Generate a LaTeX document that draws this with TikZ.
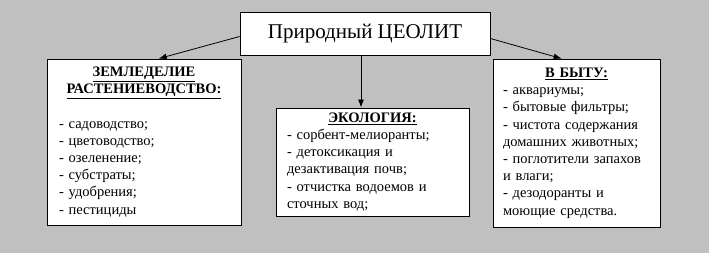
\documentclass[tikz,border=0pt]{standalone}
\usepackage{fontspec}
\setmainfont{Liberation Serif}
\usetikzlibrary{arrows.meta}
\setlength{\parindent}{0pt}
\definecolor{bggray}{RGB}{192,192,192}
\newcommand{\hd}[1]{\textbf{\underline{#1}}}
\tikzset{
  >={Latex[length=8pt,width=6pt]},
  bx/.style={draw,fill=white,line width=0.8pt,align=left,inner ysep=2pt,
    font=\fontsize{14.5}{17.2}\selectfont},
  ttl/.style={draw,fill=white,line width=0.8pt,minimum width=250pt,minimum height=43pt,
    font=\fontsize{21}{25}\selectfont},
  every picture/.style={line width=0.8pt},
}
\begin{document}
\begin{tikzpicture}[x=1pt,y=-1pt]
\fill[bggray] (0,0) rectangle (709,253);
\node[ttl] (title) at (365,33.5){Природный ЦЕОЛИТ};
\node[bx,inner xsep=12pt,text width=170pt,minimum height=166pt] (zem) at (144,142){%
{\centering\hd{ЗЕМЛЕДЕЛИЕ}\\\hd{РАСТЕНИЕВОДСТВО:}\par}\vspace{17.2pt}%
- садоводство;\\- цветоводство;\\- озеленение;\\- субстраты;\\- удобрения;\\- пестициды};
\node[bx,inner xsep=11pt,text width=171pt,minimum height=108pt] (eco) at (372.5,162){%
{\centering\hd{ЭКОЛОГИЯ:}\par}%
- сорбент-мелиоранты;\\- детоксикация и\\дезактивация почв;\\- отчистка водоемов и\\сточных вод;};
\node[bx,inner xsep=10pt,text width=147pt,minimum height=168pt] (byt) at (576.5,143){%
{\centering\hd{В БЫТУ:}\par}%
- аквариумы;\\- бытовые фильтры;\\- чистота содержания\\домашних животных;\\- поглотители запахов\\и влаги;\\- дезодоранты и\\моющие средства.};
\coordinate (mtop) at ([xshift=-4pt]title.south);
\draw[->] ([yshift=-3pt]title.west) -- (zem.80);
\draw[->] (mtop) -- (mtop |- eco.north);
\draw[->] ([yshift=-5pt]title.east) -- (byt.100);
\end{tikzpicture}
\end{document}
